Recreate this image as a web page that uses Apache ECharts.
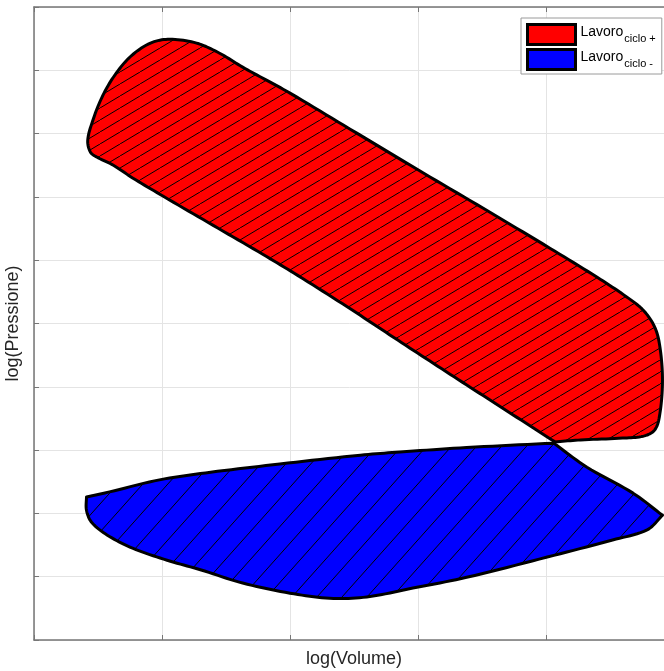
<!DOCTYPE html>
<html>
<head>
<meta charset="utf-8">
<script src="https://cdn.jsdelivr.net/npm/echarts@6/dist/echarts.min.js"></script>
<style>
  html, body { margin: 0; padding: 0; background: #ffffff; }
  #chart { width: 664px; height: 671px; }
</style>
</head>
<body>
<div id="chart"></div>
<script>
// Cycle names (shown in the legend with a subscript)
const cycleNames = ['Lavoro ciclo +', 'Lavoro ciclo -'];

// Positive-work loop: log(V), log(P) along the outline
const positiveLogV = [1.06, 1.27, 1.45, 1.63, 1.82, 2.00, 2.47, 2.99, 3.51, 4.03, 4.40, 4.63, 4.76, 4.85, 4.89, 4.91, 4.89, 4.85, 4.76, 4.60, 4.27, 4.07,
  3.74, 3.41, 3.09, 2.78, 2.45, 2.06, 1.79, 1.40, 1.01, 0.77, 0.62, 0.49, 0.44, 0.42, 0.46, 0.53, 0.62, 0.75, 0.91];
const positiveLogP = [9.49, 9.43, 9.27, 9.05, 8.84, 8.64, 8.07, 7.44, 6.82, 6.19, 5.73, 5.42, 5.21, 4.94, 4.63, 4.11, 3.58, 3.32, 3.22, 3.19, 3.16, 3.13,
  3.56, 3.99, 4.41, 4.82, 5.26, 5.76, 6.09, 6.55, 7.01, 7.30, 7.50, 7.63, 7.71, 7.90, 8.21, 8.57, 8.89, 9.21, 9.43];
// outline vertices that are sharp corners
const positiveCorners = [21];

// Negative-work loop: log(V), log(P) along the outline
const negativeLogV = [0.41, 0.59, 0.98, 1.38, 1.92, 2.55, 2.86, 3.38, 4.06, 4.32, 4.68, 4.91, 4.79, 4.52, 4.01, 3.38, 2.96, 2.60, 2.31, 2.00, 1.63, 1.30, 1.04, 0.77, 0.57, 0.45, 0.41];
const negativeLogP = [2.26, 2.34, 2.53, 2.65, 2.78, 2.92, 2.97, 3.04, 3.11, 2.73, 2.32, 1.97, 1.74, 1.58, 1.31, 0.99, 0.82, 0.68, 0.66, 0.74, 0.90, 1.11, 1.26, 1.45, 1.66, 1.86, 2.05];
const negativeCorners = [0, 8, 11];

// Axis extents (no tick labels are shown)
const volumeRange = [0, 5];
const pressureRange = [0, 10];

// Repeating tile: solid fill crossed by one diagonal hatch line
function hatchTile(fill, w, h) {
  const c = document.createElement('canvas');
  c.width = w; c.height = h;
  const g = c.getContext('2d');
  g.fillStyle = fill;
  g.fillRect(0, 0, w, h);
  g.strokeStyle = '#000000';
  g.lineWidth = 1;
  for (const dx of [-w, 0, w]) {
    g.beginPath();
    g.moveTo(dx, h);
    g.lineTo(dx + w, 0);
    g.stroke();
  }
  return c;
}

// Closed Hermite spline through pixel points; corner vertices keep chord tangents
function smoothOutline(pts, corners, steps) {
  const n = pts.length;
  const out = [];
  const sub = (a, b) => [a[0] - b[0], a[1] - b[1]];
  const len = (v) => Math.hypot(v[0], v[1]) || 1;
  const scaled = (v, s) => { const l = len(v); return [v[0] / l * s, v[1] / l * s]; };
  for (let i = 0; i < n; i++) {
    const p0 = pts[(i - 1 + n) % n], p1 = pts[i], p2 = pts[(i + 1) % n], p3 = pts[(i + 2) % n];
    const chord = sub(p2, p1);
    const d = len(chord);
    const m1 = corners.includes(i) ? chord : scaled(sub(p2, p0), d);
    const m2 = corners.includes((i + 1) % n) ? chord : scaled(sub(p3, p1), d);
    for (let s = 0; s < steps; s++) {
      const t = s / steps, t2 = t * t, t3 = t2 * t;
      const h00 = 2 * t3 - 3 * t2 + 1, h10 = t3 - 2 * t2 + t, h01 = -2 * t3 + 3 * t2, h11 = t3 - t2;
      out.push([
        h00 * p1[0] + h10 * m1[0] + h01 * p2[0] + h11 * m2[0],
        h00 * p1[1] + h10 * m1[1] + h01 * p2[1] + h11 * m2[1]
      ]);
    }
  }
  return out;
}

function loopSeries(name, xs, ys, corners, color, tile) {
  return {
    type: 'custom',
    name: name,
    coordinateSystem: 'cartesian2d',
    silent: true,
    itemStyle: { color: color },
    data: xs.map((x, i) => [x, ys[i]]),
    encode: { x: 0, y: 1 },
    renderItem: function (params, api) {
      if (params.dataIndex !== 0) return;
      const pts = xs.map((x, i) => api.coord([x, ys[i]]));
      return {
        type: 'polygon',
        shape: { points: smoothOutline(pts, corners, 10) },
        style: {
          fill: { image: tile, repeat: 'repeat' },
          stroke: '#000000',
          lineWidth: 3,
          lineJoin: 'round'
        }
      };
    }
  };
}

const axisGray = '#767676';
const gridGray = '#e4e4e4';
const labelFont = 'Liberation Sans, Arial, Helvetica, sans-serif';

function frameAxis(position, range, withGrid, extra) {
  return Object.assign({
    type: 'value',
    position: position,
    min: range[0],
    max: range[1],
    interval: 1,
    axisLine: { show: true, onZero: false, lineStyle: { color: axisGray, width: 1.5 } },
    axisTick: { show: true, inside: true, length: 5, lineStyle: { color: axisGray, width: 1 } },
    axisLabel: { show: false },
    splitLine: { show: withGrid, lineStyle: { color: gridGray, width: 1 } }
  }, extra || {});
}

const chart = echarts.init(document.getElementById('chart'), null, { renderer: 'canvas' });

chart.setOption({
  animation: false,
  backgroundColor: '#ffffff',
  grid: { left: 34, top: 7, width: 640, height: 633, outerBoundsMode: 'none' },
  xAxis: [
    frameAxis('bottom', volumeRange, true, {
      name: 'log(Volume)',
      nameLocation: 'middle',
      nameGap: 10,
      nameTextStyle: { fontSize: 18, color: '#262626', fontFamily: labelFont, verticalAlign: 'top' }
    }),
    frameAxis('top', volumeRange, false)
  ],
  yAxis: [
    frameAxis('left', pressureRange, true, {
      name: 'log(Pressione)',
      nameLocation: 'middle',
      nameGap: 12,
      nameTextStyle: { fontSize: 18, color: '#262626', fontFamily: labelFont }
    }),
    frameAxis('right', pressureRange, false)
  ],
  legend: {
    orient: 'vertical',
    left: 521,
    top: 18,
    padding: [5, 6, 3, 5],
    itemGap: 2,
    itemWidth: 48,
    itemHeight: 20,
    backgroundColor: '#ffffff',
    borderColor: '#9a9a9a',
    borderWidth: 1,
    borderRadius: 0,
    icon: 'rect',
    itemStyle: { borderColor: '#000000', borderWidth: 3 },
    data: cycleNames,
    formatter: function (name) {
      const parts = name.split(' ');
      return '{m|' + parts[0] + '}{s|' + parts.slice(1).join(' ') + '}';
    },
    textStyle: {
      fontFamily: labelFont,
      color: '#000000',
      rich: {
        m: { fontSize: 14, lineHeight: 14, fontFamily: labelFont, color: '#000000', padding: [0, 0, 5, 0] },
        s: { fontSize: 11, lineHeight: 11, fontFamily: labelFont, color: '#000000', padding: [8, 0, 0, 1] }
      }
    }
  },
  series: [
    loopSeries(cycleNames[0], positiveLogV, positiveLogP, positiveCorners, '#ff0000', hatchTile('#ff0000', 20, 12)),
    loopSeries(cycleNames[1], negativeLogV, negativeLogP, negativeCorners, '#0000ff', hatchTile('#0000ff', 25, 28))
  ]
});
</script>
</body>
</html>
